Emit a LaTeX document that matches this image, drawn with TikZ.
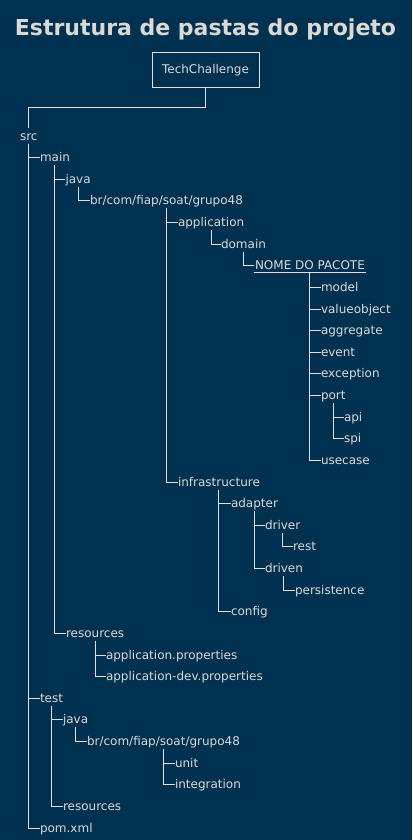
\documentclass[tikz,border=0pt]{standalone}
\usepackage{fontspec}
\setmainfont{DejaVu Sans}
\definecolor{bgnavy}{HTML}{003151}
\definecolor{treeline}{HTML}{E6DFD8}
\definecolor{foldertext}{HTML}{DCD9D5}
\begin{document}
\begin{tikzpicture}[x=1pt,y=-1pt,line width=1pt,color=treeline,
    folder/.style={anchor=base west,inner sep=0pt,text height=11pt,text depth=3pt,text=foldertext,font=\fontsize{12}{14}\selectfont}]
        \fill[bgnavy] (0,0) rectangle (412,840);
        \useasboundingbox (0,0) rectangle (412,840);
        \node[anchor=base,text=foldertext,font=\fontsize{22}{26}\selectfont\bfseries] (Title) at (205.5,36) {Estrutura de pastas do projeto};
        \node[draw,text=foldertext,minimum width=107pt,minimum height=35pt,inner sep=0pt,text height=11pt,text depth=3pt,font=\fontsize{12}{14}\selectfont] (TechChallenge) at (205.5,69.8) {TechChallenge};
        \node[folder] (Src) at (19.5,140) {src};
        \node[folder] (Main) at (39.5,161.6) {main};
        \node[folder] (Main_java) at (65,183.3) {java};
        \node[folder] (Main_pkg) at (89.5,204.9) {br/com/fiap/soat/grupo48};
        \node[folder] (Application) at (177.5,226.5) {application};
        \node[folder] (Domain) at (220.5,248.1) {domain};
        \node[folder,text depth=2pt,inner xsep=1pt] (Nome_pacote) at (253.5,269.75) {NOME DO PACOTE};
        \node[folder] (Model) at (320.5,291.4) {model};
        \node[folder] (Valueobject) at (320.5,313) {valueobject};
        \node[folder] (Aggregate) at (320.5,334.6) {aggregate};
        \node[folder] (Event) at (320.5,356.25) {event};
        \node[folder] (Exception) at (320.5,377.9) {exception};
        \node[folder] (Port) at (320.5,399.5) {port};
        \node[folder] (Api) at (343.5,421.1) {api};
        \node[folder] (Spi) at (343.5,442.75) {spi};
        \node[folder] (Usecase) at (320.5,464.4) {usecase};
        \node[folder] (Infrastructure) at (177.5,486) {infrastructure};
        \node[folder] (Adapter) at (230.5,507.9) {adapter};
        \node[folder] (Driver) at (264.5,529.25) {driver};
        \node[folder] (Rest) at (292.5,550.9) {rest};
        \node[folder] (Driven) at (264.5,572.5) {driven};
        \node[folder] (Persistence) at (294.5,594.1) {persistence};
        \node[folder] (Config) at (230.5,615.75) {config};
        \node[folder] (Main_resources) at (65.5,637.4) {resources};
        \node[folder] (App_props) at (105.5,659) {application.properties};
        \node[folder] (App_dev_props) at (105.5,680.6) {application-dev.properties};
        \node[folder] (Test) at (39.5,702.25) {test};
        \node[folder] (Test_java) at (62.5,723.9) {java};
        \node[folder] (Test_pkg) at (86.5,745.5) {br/com/fiap/soat/grupo48};
        \node[folder] (Unit) at (174.5,767.1) {unit};
        \node[folder] (Integration) at (174.5,788.75) {integration};
        \node[folder] (Test_resources) at (62.5,810.4) {resources};
        \node[folder] (Pom) at (39.5,832) {pom.xml};
        \draw (TechChallenge.south) -- ++(0,20) -| (Src.north);
        \draw (Src.south) |- (Main.west);
        \draw (Src.south) |- (Test.west);
        \draw (Src.south) |- (Pom.west);
        \draw (Main.south) |- (Main_java.west);
        \draw (Main.south) |- (Main_resources.west);
        \draw (Main_java.south) |- (Main_pkg.west);
        \draw (Main_pkg.south) |- (Application.west);
        \draw (Main_pkg.south) |- (Infrastructure.west);
        \draw (Application.south) |- (Domain.west);
        \draw (Domain.south) |- (Nome_pacote.west);
        \draw (Nome_pacote.south west) -- (Nome_pacote.south east);
        \draw (Nome_pacote.south) |- (Model.west);
        \draw (Nome_pacote.south) |- (Valueobject.west);
        \draw (Nome_pacote.south) |- (Aggregate.west);
        \draw (Nome_pacote.south) |- (Event.west);
        \draw (Nome_pacote.south) |- (Exception.west);
        \draw (Nome_pacote.south) |- (Port.west);
        \draw (Nome_pacote.south) |- (Usecase.west);
        \draw (Port.south) |- (Api.west);
        \draw (Port.south) |- (Spi.west);
        \draw (Infrastructure.south) |- (Adapter.west);
        \draw (Infrastructure.south) |- (Config.west);
        \draw (Adapter.south) |- (Driver.west);
        \draw (Adapter.south) |- (Driven.west);
        \draw (Driver.south) |- (Rest.west);
        \draw (Driven.south) |- (Persistence.west);
        \draw (Main_resources.south) |- (App_props.west);
        \draw (Main_resources.south) |- (App_dev_props.west);
        \draw (Test.south) |- (Test_java.west);
        \draw (Test.south) |- (Test_resources.west);
        \draw (Test_java.south) |- (Test_pkg.west);
        \draw (Test_pkg.south) |- (Unit.west);
        \draw (Test_pkg.south) |- (Integration.west);
    \end{tikzpicture}
\end{document}
